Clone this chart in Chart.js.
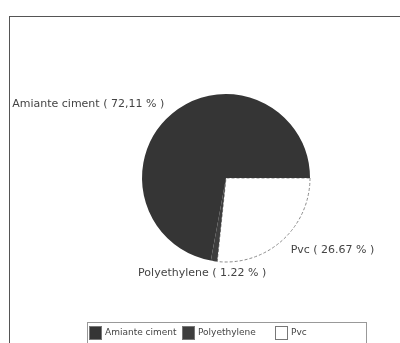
<!DOCTYPE html>
<html>
<head>
<meta charset="utf-8">
<script src="https://cdn.jsdelivr.net/npm/chart.js@4"></script>
<style>
  html, body { margin: 0; background: #fff; overflow: hidden; width: 400px; height: 343px; }
  #frame {
    position: absolute; left: 9px; top: 16px;
    width: 432px; height: 340px;
    border-left: 1px solid #555; border-top: 1px solid #555; background: #fff;
  }
  canvas { display: block; }
</style>
</head>
<body>
<div id="frame"><canvas id="pieChart" width="432" height="340"></canvas></div>
<script>
// valeurs (ordre de tracé, sens horaire depuis 3 h)
const categories = ["Pvc", "Polyethylene", "Amiante ciment"];
const percents = [26.67, 1.22, 72.11];
const percentLabels = ["26.67", "1.22", "72,11"];
const legendOrder = ["Amiante ciment", "Polyethylene", "Pvc"];
const sliceColors = ["#ffffff", "#3e3e3e", "#353535"];

const ctx = document.getElementById("pieChart").getContext("2d");

// étiquettes autour du camembert
const sliceLabels = {
  id: "sliceLabels",
  afterDatasetsDraw(chart) {
    const c = chart.ctx;
    const meta = chart.getDatasetMeta(0);
    c.save();
    c.font = "11px 'DejaVu Sans'";
    c.fillStyle = "#444";
    c.textBaseline = "middle";
    meta.data.forEach((arc, i) => {
      const mid = (arc.startAngle + arc.endAngle) / 2;
      const r = arc.outerRadius * 1.15;
      let x = arc.x + Math.cos(mid) * r;
      const y = arc.y + Math.sin(mid) * r;
      const cos = Math.cos(mid);
      c.textAlign = cos < -0.3 ? "right" : cos > 0.3 ? "left" : "center";
      if (c.textAlign === "center") x -= 10;
      c.fillText(categories[i] + " ( " + percentLabels[i] + " % )", x, y);
    });
    c.restore();
  },
};

// légende en cases de même largeur, avec cadre
const boxLegend = {
  id: "boxLegend",
  afterDraw(chart) {
    const c = chart.ctx;
    const cellW = 93;
    const top = chart.chartArea.bottom;
    const left = (chart.chartArea.left + chart.chartArea.right) / 2 - (cellW * legendOrder.length) / 2;
    c.save();
    c.strokeStyle = "#999";
    c.lineWidth = 1;
    c.strokeRect(Math.round(left) + 0.5, top + 0.5, cellW * legendOrder.length, 30);
    c.font = "9px 'DejaVu Sans'";
    c.textBaseline = "middle";
    legendOrder.forEach((name, k) => {
      const i = categories.indexOf(name);
      const x = Math.round(left + k * cellW + 2);
      c.fillStyle = sliceColors[i];
      c.fillRect(x, top + 4, 12, 13);
      c.strokeStyle = "#777";
      c.strokeRect(x + 0.5, top + 4.5, 12, 13);
      c.fillStyle = "#444";
      c.fillText(name, x + 16, top + 11);
    });
    c.restore();
  },
};

new Chart(ctx, {
  type: "pie",
  data: {
    labels: categories,
    datasets: [
      {
        data: percents,
        backgroundColor: sliceColors,
        borderColor: "#8a8a8a",
        borderWidth: [1, 0, 0],
        borderDash: [3, 2],
        radius: 84,
      },
    ],
  },
  options: {
    responsive: false,
    animation: false,
    rotation: 90,
    layout: { padding: { top: 17, bottom: 35, left: 0, right: 0 } },
    plugins: {
      tooltip: { enabled: false },
      legend: { display: false },
    },
  },
  plugins: [sliceLabels, boxLegend],
});
</script>
</body>
</html>
